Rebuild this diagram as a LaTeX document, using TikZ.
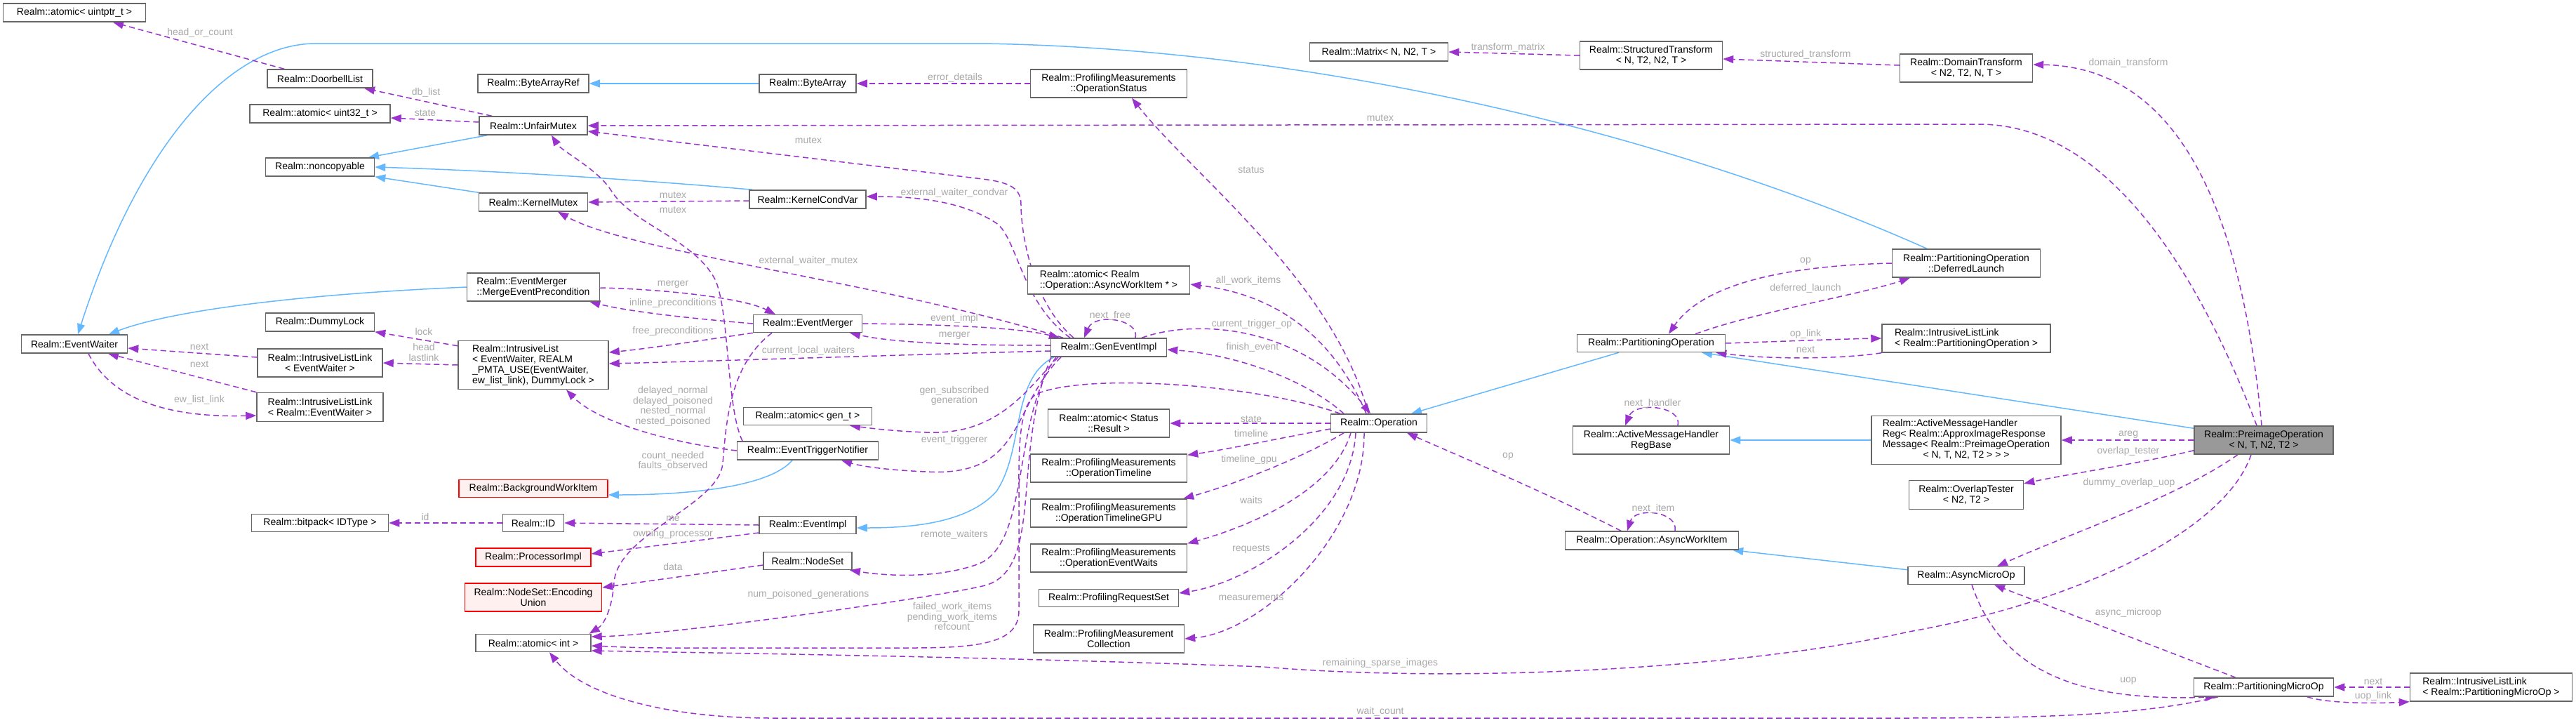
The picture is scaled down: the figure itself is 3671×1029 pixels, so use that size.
\documentclass[tikz,border=0pt]{standalone}
\usepackage{fontspec}
\setmainfont{Liberation Sans}
\usetikzlibrary{arrows.meta}
\definecolor{orchid}{HTML}{9A32CD}
\definecolor{steel}{HTML}{63B8FF}
\definecolor{nborder}{HTML}{666666}
\definecolor{lblgray}{HTML}{A8A8A8}
\definecolor{rborder}{HTML}{FF0000}
\definecolor{rfill}{HTML}{FFF0F0}
\definecolor{gfill}{HTML}{999999}
\newcommand{\nfont}{\fontsize{14}{15}\selectfont}
\newcommand{\lfont}{\fontsize{14}{14.5}\selectfont}
\pgfdeclarelayer{bg}
\pgfsetlayers{bg,main}
\begin{document}
\begin{tikzpicture}[x=1pt,y=-1pt,
 cls/.style={draw=nborder,fill=white,line width=1.5pt,inner sep=0pt,align=center,font=\nfont},
 undoc/.style={cls,draw=rborder,fill=rfill},
 sz/.style 2 args={minimum width=#1pt,minimum height=#2pt},
 mem/.style={draw=orchid,line width=1.5pt,dash pattern=on 8pt off 5pt,-{Triangle[length=15pt,width=11pt]}},
 inh/.style={draw=steel,line width=1.5pt,-{Triangle[length=15pt,width=11pt]}},
 lbl/.style={text=lblgray,font=\lfont,inner sep=0pt,align=center}]
\useasboundingbox (0,0) rectangle (3671,1029);
% ---------- nodes ----------
\node[cls,sz={203}{26}] (auptr) at (106,18) {Realm::atomic< uintptr\_t >};
\node[cls,sz={150}{26}] (doorbell) at (456,112) {Realm::DoorbellList};
\node[cls,sz={158}{26}] (barref) at (760,119) {Realm::ByteArrayRef};
\node[cls,sz={200}{26}] (au32) at (456,162) {Realm::atomic< uint32\_t >};
\node[cls,sz={154}{26}] (unfair) at (760,179) {Realm::UnfairMutex};
\node[cls,sz={155}{26}] (noncopy) at (456,238) {Realm::noncopyable};
\node[cls,sz={155}{26}] (kmutex) at (760,288) {Realm::KernelMutex};
\node[cls,sz={138}{26}] (barray) at (1151,119) {Realm::ByteArray};
\node[cls,sz={223}{40}] (opstatus) at (1580,119) {Realm::ProfilingMeasurements\\::OperationStatus};
\node[cls,sz={166}{26}] (kcond) at (1151,284) {Realm::KernelCondVar};
\node[cls,sz={197}{26}] (matrix) at (1965,74) {Realm::Matrix< N, N2, T >};
\node[cls,sz={203}{40}] (structt) at (2353,79) {Realm::StructuredTransform\\< N, T2, N2, T >};
\node[cls,sz={189}{40}] (domaint) at (2802,97) {Realm::DomainTransform\\< N2, T2, N, T >};
\node[cls,sz={189}{40},align=left] (mep) at (760,409) {Realm::EventMerger\\::MergeEventPrecondition};
\node[cls,sz={155}{26}] (dlock) at (456,459) {Realm::DummyLock};
\node[cls,sz={151}{26}] (ewaiter) at (106,490) {Realm::EventWaiter};
\node[cls,sz={178}{40}] (illew) at (456,517) {Realm::IntrusiveListLink\\< EventWaiter >};
\node[cls,sz={214}{69},align=left] (ilist) at (760,520) {Realm::IntrusiveList\\< EventWaiter, REALM\\\_PMTA\_USE(EventWaiter,\\ ew\_list\_link), DummyLock >};
\node[cls,sz={180}{41}] (illrew) at (456,580) {Realm::IntrusiveListLink\\< Realm::EventWaiter >};
\node[undoc,sz={212}{25}] (bgwork) at (760,696) {Realm::BackgroundWorkItem};
\node[cls,sz={195}{25}] (bitpack) at (456,745) {Realm::bitpack< IDType >};
\node[cls,sz={87}{25}] (id) at (760,745) {Realm::ID};
\node[undoc,sz={164}{26}] (procimpl) at (760,794) {Realm::ProcessorImpl};
\node[undoc,sz={195}{40}] (encunion) at (760,851) {Realm::NodeSet::Encoding\\Union};
\node[cls,sz={164}{25}] (aint) at (760,916) {Realm::atomic< int >};
\node[cls,sz={231}{40},align=left] (awi) at (1580,399) {Realm::atomic< Realm\\::Operation::AsyncWorkItem * >};
\node[cls,sz={155}{25}] (emerger) at (1151,461) {Realm::EventMerger};
\node[cls,sz={165}{26}] (genev) at (1580,495) {Realm::GenEventImpl};
\node[cls,sz={183}{25}] (agen) at (1151,593) {Realm::atomic< gen\_t >};
\node[cls,sz={173}{40}] (astat) at (1580,603) {Realm::atomic< Status\\::Result >};
\node[cls,sz={201}{26}] (etn) at (1151,642) {Realm::EventTriggerNotifier};
\node[cls,sz={223}{40}] (optl) at (1580,667) {Realm::ProfilingMeasurements\\::OperationTimeline};
\node[cls,sz={138}{25}] (evimpl) at (1151,748) {Realm::EventImpl};
\node[cls,sz={126}{25}] (nodeset) at (1151,799) {Realm::NodeSet};
\node[cls,sz={223}{40}] (optlgpu) at (1580,731) {Realm::ProfilingMeasurements\\::OperationTimelineGPU};
\node[cls,sz={223}{40}] (opew) at (1580,795) {Realm::ProfilingMeasurements\\::OperationEventWaits};
\node[cls,sz={199}{25}] (preqset) at (1580,852) {Realm::ProfilingRequestSet};
\node[cls,sz={215}{40}] (pmcoll) at (1580,910) {Realm::ProfilingMeasurement\\Collection};
\node[cls,sz={137}{26}] (operation) at (1965,603) {Realm::Operation};
\node[cls,sz={211}{25}] (partop) at (2353,489) {Realm::PartitioningOperation};
\node[cls,sz={223}{40}] (amhbase) at (2353,627) {Realm::ActiveMessageHandler\\RegBase};
\node[cls,sz={211}{40}] (deferred) at (2802,375) {Realm::PartitioningOperation\\::DeferredLaunch};
\node[cls,sz={240}{40},align=left] (illpo) at (2802,482) {Realm::IntrusiveListLink\\< Realm::PartitioningOperation >};
\node[cls,sz={270}{69}] (amhreg) at (2802,627) {\begin{tabular}{@{}l@{}}Realm::ActiveMessageHandler\\Reg< Realm::ApproxImageResponse\\Message< Realm::PreimageOperation\\\multicolumn{1}{@{}c@{}}{< N, T, N2, T2 > > >}\end{tabular}};
\node[cls,sz={198}{40},fill=gfill] (preimage) at (3226,627) {Realm::PreimageOperation\\< N, T, N2, T2 >};
\node[cls,sz={247}{26}] (awitem) at (2354,770) {Realm::Operation::AsyncWorkItem};
\node[cls,sz={163}{41}] (overlap) at (2802,705) {Realm::OverlapTester\\< N2, T2 >};
\node[cls,sz={166}{25}] (asyncmop) at (2802,820) {Realm::AsyncMicroOp};
\node[cls,sz={199}{26}] (pmop) at (3226,979) {Realm::PartitioningMicroOp};
\node[cls,sz={231}{40},align=left] (illpmop) at (3550,979) {Realm::IntrusiveListLink\\< Realm::PartitioningMicroOp >};
% ---------- edges ----------
\begin{pgfonlayer}{bg}
% inheritance
\draw[inh] ([xshift=-66pt]unfair.south) -- ([xshift=69pt]noncopy.north);
\draw[inh] (kmutex.north west) -- (noncopy.south east);
\draw[inh] ([xshift=5pt]kcond.north west) .. controls (900,255) and (700,243) .. (noncopy.east);
\draw[inh] (barray.west) -- (barref.east);
\draw[inh] (mep.west) .. controls (450,418) and (250,440) .. ([xshift=49pt]ewaiter.north);
\draw[inh] ([xshift=-56pt]deferred.north) .. controls (2400,200) and (1900,70) .. (1400,62) -- (450,62) .. controls (330,62) and (200,200) .. ([xshift=5pt]ewaiter.north);
\draw[inh] ([xshift=-22pt]etn.south) .. controls (1100,690) and (1000,705) .. ([yshift=-9pt]bgwork.east);
\draw[inh] ([xshift=-78pt]genev.south) .. controls (1440,540) and (1460,640) .. (1420,700) .. controls (1380,745) and (1300,752) .. ([yshift=-4pt]evimpl.east);
\draw[inh] ([xshift=-46pt]partop.south) -- ([xshift=46pt]operation.north);
\draw[inh] ([yshift=-4pt]preimage.north west) -- ([xshift=72pt]partop.south);
\draw[inh] (amhreg.west) -- (amhbase.east);
\draw[inh] ([yshift=-5pt]asyncmop.north west) -- ([xshift=-9pt]awitem.south east);
% members
\draw[mem] ([xshift=-51pt]doorbell.north) -- ([xshift=55pt]auptr.south);
\draw[mem] ([xshift=-59pt]unfair.north) -- ([xshift=63pt]doorbell.south);
\draw[mem] ([yshift=5pt]unfair.west) -- ([yshift=-6pt]au32.east);
\draw[mem] (opstatus.west) -- (barray.east);
\draw[mem] (structt.west) -- (matrix.east);
\draw[mem] ([yshift=4pt]domaint.west) -- ([yshift=-5pt]structt.east);
\draw[mem] ([xshift=-3pt]preimage.north) .. controls (3190,250) and (3080,95) .. ([yshift=5pt]domaint.east);
\draw[mem] ([xshift=-10pt]preimage.north) .. controls (3130,380) and (3000,177) .. (2820,177) -- (unfair.east);
\draw[mem] ([xshift=-50pt]genev.north) .. controls (1470,430) and (1455,330) .. (1455,292) .. controls (1455,268) and (1440,260) .. (1400,255) -- ([yshift=-8pt]unfair.east);
\draw[mem] ([yshift=-2pt]kcond.west) -- (kmutex.east);
\draw[mem] ([xshift=-55pt]genev.north) .. controls (1455,430) and (1450,340) .. (1420,318) .. controls (1370,285) and (1300,280) .. ([yshift=4pt]kcond.east);
\draw[mem] ([xshift=-65pt]genev.north) .. controls (1250,400) and (900,360) .. ([xshift=35pt]kmutex.south);
\draw[mem] ([xshift=-93pt]etn.north) .. controls (1035,580) and (1040,450) .. (1020,400) .. controls (990,340) and (900,320) .. (870,270) .. controls (850,240) and (800,215) .. ([xshift=26pt]unfair.south);
\draw[mem] ([xshift=-51pt]emerger.south) .. controls (1040,520) and (1035,600) .. (1030,660) .. controls (1025,720) and (880,760) .. (875,830) .. controls (872,870) and (860,890) .. ([xshift=-3pt]aint.north east);
\draw[mem] (etn.west) .. controls (950,630) and (850,600) .. ([xshift=47pt]ilist.south);
\draw[mem] ([yshift=-1pt]mep.east) .. controls (950,412) and (1060,425) .. ([xshift=-46pt]emerger.north);
\draw[mem] (emerger.west) .. controls (1000,455) and (900,445) .. ([xshift=-15pt]mep.south east);
\draw[mem] (emerger.south west) .. controls (1000,485) and (920,497) .. ([yshift=18pt]ilist.east);
\draw[mem] ([yshift=-5pt]genev.west) .. controls (1300,505) and (1000,515) .. ([yshift=2pt]ilist.east);
\draw[mem] (emerger.east) .. controls (1330,462) and (1450,466) .. ([xshift=-70pt]genev.north);
\draw[mem] ([yshift=3pt]genev.west) .. controls (1400,492) and (1280,490) .. ([xshift=60pt]emerger.south);
\draw[mem] ([xshift=38pt]genev.north) .. controls (1625,455) and (1560,445) .. ([xshift=-35pt]genev.north);
\draw[mem] ([xshift=-72pt]genev.south) .. controls (1460,560) and (1420,620) .. (1320,616) .. controls (1270,614) and (1240,610) .. ([xshift=60pt]agen.south);
\draw[mem] ([xshift=-68pt]genev.south) .. controls (1440,580) and (1460,680) .. (1320,672) .. controls (1270,670) and (1230,665) .. ([xshift=48pt]etn.south);
\draw[mem] ([xshift=-75pt]genev.south) .. controls (1440,600) and (1470,780) .. (1390,805) .. controls (1330,825) and (1260,820) .. ([xshift=60pt]nodeset.south);
\draw[mem] ([xshift=-82pt]genev.south) .. controls (1440,650) and (1490,815) .. (1400,835) .. controls (1310,855) and (950,905) .. ([yshift=9pt]aint.east);
\draw[mem] ([xshift=-55pt]operation.north) .. controls (1800,550) and (1560,530) .. (1480,560) .. controls (1450,572) and (1452,650) .. (1452,700) -- (1452,870) .. controls (1452,915) and (1400,923) .. (1300,923) -- (950,923) .. controls (900,923) and (870,921) .. ([yshift=-4pt]aint.east);
\draw[mem] ([xshift=-18pt]preimage.south) .. controls (3170,760) and (2950,860) .. (2720,900) .. controls (2500,950) and (2100,975) .. (1800,950) .. controls (1400,935) and (1000,930) .. ([yshift=-11pt]aint.east);
\draw[mem] ([xshift=-65pt]pmop.south) .. controls (3050,1020) and (2900,1023) .. (2700,1023) -- (1100,1023) .. controls (950,1023) and (830,990) .. ([xshift=23pt]aint.south);
\draw[mem] ([xshift=-15pt]operation.north) .. controls (1900,400) and (1700,250) .. ([xshift=33pt]opstatus.south);
\draw[mem] ([xshift=-18pt]operation.north) .. controls (1900,480) and (1820,420) .. ([yshift=-6pt]awi.east);
\draw[mem] ([xshift=47pt]genev.north) .. controls (1700,455) and (1850,460) .. ([xshift=-12pt]operation.north);
\draw[mem] ([xshift=-50pt]operation.north) .. controls (1860,540) and (1760,505) .. ([yshift=-3pt]genev.east);
\draw[mem] (operation.west) -- (astat.east);
\draw[mem] ([yshift=-8pt]operation.west) .. controls (1820,625) and (1750,640) .. ([yshift=-2pt]optl.north east);
\draw[mem] ([xshift=-50pt]operation.south) .. controls (1860,650) and (1760,690) .. ([xshift=-6pt]optlgpu.north east);
\draw[mem] ([xshift=-40pt]operation.south) .. controls (1900,700) and (1780,750) .. (opew.north east);
\draw[mem] ([xshift=-33pt]operation.south) .. controls (1925,740) and (1780,830) .. ([yshift=7pt]preqset.east);
\draw[mem] ([xshift=-21pt]operation.south) .. controls (1945,760) and (1800,900) .. (pmcoll.east);
\draw[mem] ([xshift=-44pt]awitem.north) .. controls (2200,700) and (2080,650) .. ([xshift=40pt]operation.south);
\draw[mem] ([xshift=33pt]awitem.north) .. controls (2392,728) and (2330,722) .. ([xshift=-35pt]awitem.north);
\draw[mem] ([xshift=38pt]amhbase.north) .. controls (2398,578) and (2330,572) .. ([xshift=-37pt]amhbase.north);
\draw[mem] (deferred.west) .. controls (2560,378) and (2430,400) .. ([xshift=25pt]partop.north);
\draw[mem] ([xshift=63pt]partop.north) .. controls (2500,445) and (2650,420) .. ([xshift=-80pt]deferred.south);
\draw[mem] (partop.east) .. controls (2550,486) and (2620,483) .. (illpo.west);
\draw[mem] (illpo.south west) .. controls (2620,512) and (2520,512) .. ([xshift=-14pt]partop.south east);
\draw[mem] (preimage.west) -- (amhreg.east);
\draw[mem] ([yshift=6pt]preimage.south west) .. controls (3050,660) and (2950,675) .. ([yshift=-5pt]overlap.north east);
\draw[mem] ([xshift=-37pt]preimage.south) .. controls (3100,710) and (2950,760) .. ([xshift=44pt]asyncmop.north);
\draw[mem] ([xshift=8pt]asyncmop.south) .. controls (2850,950) and (2950,1000) .. ([xshift=-68pt]pmop.south);
\draw[mem] ([xshift=-40pt]pmop.north) -- ([xshift=40pt]asyncmop.south);
\draw[mem] (illpmop.west) -- (pmop.east);
\draw[mem] ([xshift=62pt]pmop.south) .. controls (3320,1003) and (3390,1002) .. (illpmop.south west);
\draw[mem] ([yshift=8pt]illew.west) -- ([yshift=-6pt]ewaiter.east);
\draw[mem] (illrew.north west) -- ([xshift=48pt]ewaiter.south);
\draw[mem] ([xshift=20pt]ewaiter.south) .. controls (160,570) and (240,595) .. ([yshift=-12pt]illrew.west);
\draw[mem] ([yshift=-8pt]ilist.north west) -- (dlock.south east);
\draw[mem] (ilist.west) -- (illew.east);
\draw[mem] (evimpl.west) -- (id.east);
\draw[mem] ([yshift=-11pt]evimpl.west) -- ([yshift=5pt]procimpl.east);
\draw[mem] ([yshift=-6pt]nodeset.west) -- ([yshift=14pt]encunion.east);
\draw[mem] (id.west) -- (bitpack.east);
\end{pgfonlayer}
% ---------- labels ----------
\node[lbl] (l1) at (285,47) {head\_or\_count};
\node[lbl] (l2) at (607,132) {db\_list};
\node[lbl] (l3) at (606,161) {state};
\node[lbl] (l4) at (1361,111) {error\_details};
\node[lbl] (l5) at (2149,68) {transform\_matrix};
\node[lbl] (l6) at (2573,78) {structured\_transform};
\node[lbl] (l7) at (3033,90) {domain\_transform};
\node[lbl] (l8) at (1967,168) {mutex};
\node[lbl] (l9) at (1152,200) {mutex};
\node[lbl] (l10) at (959,278) {mutex};
\node[lbl] (l11) at (959,299) {mutex};
\node[lbl] (l12) at (1360,275) {external\_waiter\_condvar};
\node[lbl] (l13) at (1152,372) {external\_waiter\_mutex};
\node[lbl] (l14) at (959,405) {merger};
\node[lbl] (l15) at (959,432) {inline\_preconditions};
\node[lbl] (l16) at (959,472) {free\_preconditions};
\node[lbl] (l17) at (1152,500) {current\_local\_waiters};
\node[lbl] (l18) at (1360,454) {event\_impl};
\node[lbl] (l19) at (1360,478) {merger};
\node[lbl] (l20) at (1582,450) {next\_free};
\node[lbl] (l21) at (959,579) {delayed\_normal\\delayed\_poisoned\\nested\_normal\\nested\_poisoned};
\node[lbl] (l22) at (959,657) {count\_needed\\faults\_observed};
\node[lbl] (l23) at (1360,564) {gen\_subscribed\\generation};
\node[lbl] (l24) at (1360,627) {event\_triggerer};
\node[lbl] (l25) at (1360,762) {remote\_waiters};
\node[lbl] (l26) at (1152,847) {num\_poisoned\_generations};
\node[lbl] (l27) at (1357,878) {failed\_work\_items\\pending\_work\_items\\refcount};
\node[lbl] (l28) at (1967,945) {remaining\_sparse\_images};
\node[lbl] (l29) at (1967,1014) {wait\_count};
\node[lbl] (l30) at (1783,242) {status};
\node[lbl] (l31) at (1779,400) {all\_work\_items};
\node[lbl] (l32) at (1784,462) {current\_trigger\_op};
\node[lbl] (l33) at (1785,495) {finish\_event};
\node[lbl] (l34) at (1783,597) {state};
\node[lbl] (l35) at (1783,617) {timeline};
\node[lbl] (l36) at (1780,655) {timeline\_gpu};
\node[lbl] (l37) at (1783,712) {waits};
\node[lbl] (l38) at (1783,782) {requests};
\node[lbl] (l39) at (1783,851) {measurements};
\node[lbl] (l40) at (2149,650) {op};
\node[lbl] (l41) at (2356,725) {next\_item};
\node[lbl] (l42) at (2355,575) {next\_handler};
\node[lbl] (l43) at (2573,372) {op};
\node[lbl] (l44) at (2573,411) {deferred\_launch};
\node[lbl] (l45) at (2573,476) {op\_link};
\node[lbl] (l46) at (2573,498) {next};
\node[lbl] (l47) at (3033,619) {areg};
\node[lbl] (l48) at (3033,643) {overlap\_tester};
\node[lbl] (l49) at (3034,688) {dummy\_overlap\_uop};
\node[lbl] (l50) at (3033,970) {uop};
\node[lbl] (l51) at (3033,873) {async\_microop};
\node[lbl] (l52) at (3382,971) {next};
\node[lbl] (l53) at (3382,992) {uop\_link};
\node[lbl] (l54) at (284,494) {next};
\node[lbl] (l55) at (284,519) {next};
\node[lbl] (l56) at (284,570) {ew\_list\_link};
\node[lbl] (l57) at (604,472) {lock};
\node[lbl] (l58) at (604,502) {head\\lastlink};
\node[lbl] (l59) at (959,739) {me};
\node[lbl] (l60) at (959,761) {owning\_processor};
\node[lbl] (l61) at (959,807) {data};
\node[lbl] (l62) at (606,736) {id};
\end{tikzpicture}
\end{document}
